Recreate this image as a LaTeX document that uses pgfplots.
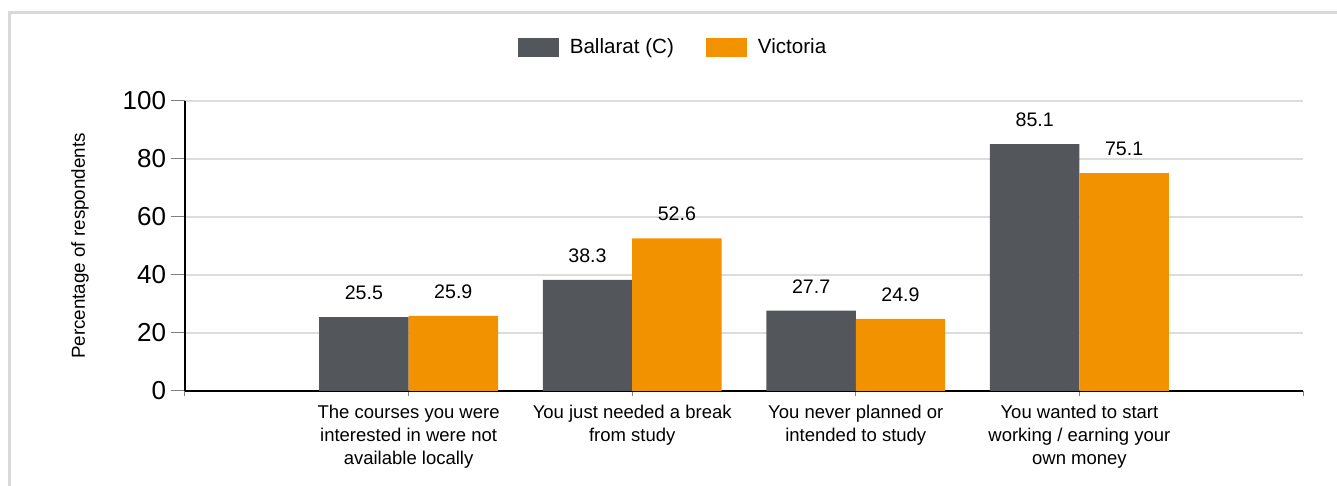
\documentclass[border=0pt]{standalone}
\usepackage{fontspec}
\setmainfont{Liberation Sans}
\usepackage{pgfplots}
\pgfplotsset{compat=1.18}
\definecolor{darkbar}{HTML}{53565A}
\definecolor{orangebar}{HTML}{F39200}
\definecolor{gridc}{HTML}{DCDCDC}
\definecolor{framec}{HTML}{D9D9D9}
\definecolor{tickc}{HTML}{808080}
\begin{document}
\begin{tikzpicture}
\useasboundingbox (0,0) rectangle (668.5pt,243pt);
\draw[framec, line width=1.5pt] (4.75pt,-2pt) -- (4.75pt,236.75pt) -- (672pt,236.75pt);
\begin{axis}[
  at={(92.5pt,47.5pt)}, anchor=south west,
  scale only axis, width=559pt, height=145pt,
  xmin=0, xmax=5, ymin=0, ymax=100,
  ybar=0pt, bar width=0.4,
  axis x line*=bottom, axis y line*=left,
  axis line style={-, line width=1pt, black},
  /pgf/number format/assume math mode=true,
  ytick={0,20,...,100},
  ymajorgrids, major grid style={gridc, line width=1pt},
  xtick={0,1,2,3,4,5},
  xticklabels={{},{The courses you were\\interested in were not\\available locally},{You just needed a break\\from study},{You never planned or\\intended to study},{You wanted to start\\working / earning your\\own money},{}},
  tick align=outside,
  xtick style={draw=tickc, line width=0.5pt, /pgfplots/major tick length=2.5pt},
  ytick style={draw=tickc, line width=0.5pt, /pgfplots/major tick length=7pt},
  xticklabel style={align=center, font=\fontsize{9.25}{11.5}\selectfont, anchor=north, inner sep=0pt, yshift=-2.5pt},
  yticklabel style={font=\fontsize{13}{15}\selectfont, anchor=east, inner sep=0pt, xshift=-5pt},
  ylabel={Percentage of respondents},
  ylabel style={at={(axis description cs:-0.0939,0.5)}, anchor=center, font=\fontsize{9.4}{11}\selectfont},
  nodes near coords={\pgfmathprintnumber[fixed,fixed zerofill,precision=1]{\pgfplotspointmeta}},
  nodes near coords style={font=\fontsize{9.8}{12}\selectfont, text=black, anchor=south, inner sep=0pt, yshift=8.5pt},
  legend style={at={(0.4374,1.1828)}, anchor=center, draw=none, fill=none, legend columns=2,
    font=\fontsize{10.3}{12}\selectfont,
    /tikz/every odd column/.append style={column sep=3.5pt},
    /tikz/every even column/.append style={column sep=14pt}},
  legend image code/.code={\fill[#1] (0pt,-4.75pt) rectangle (20.5pt,4.75pt);},
  clip=false,
]
\addplot[fill=darkbar, draw=none] coordinates {(1,25.5) (2,38.3) (3,27.7) (4,85.1)};
\addplot[fill=orangebar, draw=none] coordinates {(1,25.9) (2,52.6) (3,24.9) (4,75.1)};
\legend{Ballarat (C), Victoria}
\end{axis}
\end{tikzpicture}
\end{document}
